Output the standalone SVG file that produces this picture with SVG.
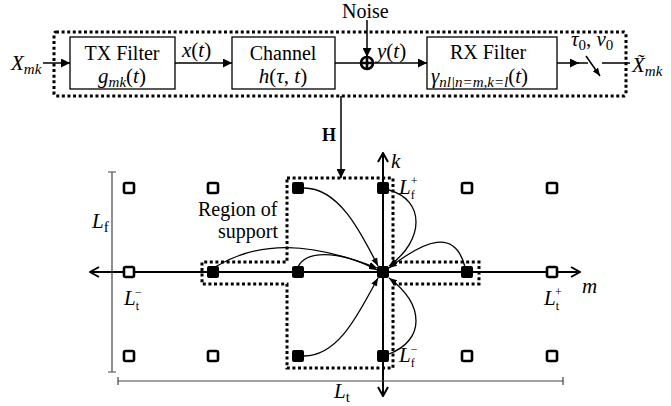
<svg xmlns="http://www.w3.org/2000/svg" width="671" height="406" viewBox="0 0 671 406">
<defs>
<style>
.box{fill:#fff;stroke:#000;stroke-width:1.3}
.dot{fill:none;stroke:#000;stroke-width:3;stroke-dasharray:3 2.6}
.ln{fill:none;stroke:#000;stroke-width:1.5}
.ax{fill:none;stroke:#000;stroke-width:2}
.cv{fill:none;stroke:#000;stroke-width:1.3}
.bar{fill:none;stroke:#444;stroke-width:1.2}
.t{font-family:"Liberation Serif",serif;font-size:20px;fill:#000}
.m{font-family:"Liberation Serif",serif;font-style:italic;font-size:21px;fill:#000}
.s{font-size:15px}
.u{font-size:12px}
.os{fill:#fff;stroke:#000;stroke-width:2.6}
.fs{fill:#000}
</style>
<marker id="ah" viewBox="0 0 10 10" refX="10" refY="5" markerWidth="9" markerHeight="9" markerUnits="userSpaceOnUse" orient="auto"><path d="M0,0 L10,5 L0,10 z" fill="#000"/></marker>
<marker id="ac" viewBox="0 0 10 10" refX="10" refY="5" markerWidth="8" markerHeight="8" markerUnits="userSpaceOnUse" orient="auto"><path d="M0,1 L10,5 L0,9 z" fill="#000"/></marker>
<marker id="ao" viewBox="0 0 12 12" refX="11" refY="6" markerWidth="12" markerHeight="12" markerUnits="userSpaceOnUse" orient="auto"><path d="M2,1 L11,6 L2,11" fill="none" stroke="#000" stroke-width="2"/></marker>
</defs>

<!-- system outer box -->
<rect class="dot" x="54" y="32" width="572" height="64" rx="2"/>

<g id="tx">
<rect class="box" x="70" y="37" width="105" height="52"/>
<text class="t" x="122" y="60" text-anchor="middle">TX Filter</text>
<text class="m" x="122" y="83" text-anchor="middle">g<tspan class="s" dy="4">mk</tspan><tspan dy="-4" font-style="normal">(</tspan>t<tspan font-style="normal">)</tspan></text>
</g>
<g id="channel">
<rect class="box" x="232" y="37" width="103" height="52"/>
<text class="t" x="283" y="60" text-anchor="middle">Channel</text>
<text class="m" x="283" y="83" text-anchor="middle">h<tspan font-style="normal">(</tspan>τ<tspan font-style="normal">,</tspan> t<tspan font-style="normal">)</tspan></text>
</g>
<g id="adder">
<circle cx="367" cy="63" r="6" fill="#fff" stroke="#000" stroke-width="2.6"/>
<path d="M361,63 H373 M367,57 V69" stroke="#000" stroke-width="2.6"/>
</g>
<g id="rx">
<rect class="box" x="427" y="37" width="130" height="52"/>
<text class="t" x="488" y="59" text-anchor="middle">RX Filter</text>
<text class="m" x="431" y="83">γ<tspan class="s" dy="4">nl|n=m,k=l</tspan><tspan dy="-4" font-style="normal">(</tspan>t<tspan font-style="normal">)</tspan></text>
</g>
<g id="sampler">
<path class="ln" d="M578,63 H588 M602,63 H630"/>
<path class="ln" d="M586,56 L600,76" marker-end="url(#ac)"/>
<text class="m" x="571" y="46">τ<tspan class="s" dy="4" font-style="normal">0</tspan><tspan dy="-4" font-style="normal">,</tspan> ν<tspan class="s" dy="4" font-style="normal">0</tspan></text>
</g>
<g id="labels-top">
<text class="m" x="11" y="70">X<tspan class="s" dy="4">mk</tspan></text>
<text class="m" x="632" y="72">X̃<tspan class="s" dy="4">mk</tspan></text>
<text class="m" x="182" y="57">x<tspan font-style="normal">(</tspan>t<tspan font-style="normal">)</tspan></text>
<text class="m" x="377" y="58">y<tspan font-style="normal">(</tspan>t<tspan font-style="normal">)</tspan></text>
<text class="t" x="342" y="18">Noise</text>
</g>

<g id="connectors">
<path class="ln" d="M43,63 H70" marker-end="url(#ah)"/>
<path class="ln" d="M175,63 H232" marker-end="url(#ah)"/>
<path class="ln" d="M335,63 H361"/>
<path class="ln" d="M373,63 H427" marker-end="url(#ah)"/>
<path class="ln" d="M557,63 H579" marker-end="url(#ah)"/>
<path class="ln" d="M367,20 V57" marker-end="url(#ah)"/>
<path class="ln" d="M341,96 V178" marker-end="url(#ah)"/>
</g>
<text x="322" y="141" font-family="Liberation Serif,serif" font-weight="bold" font-size="18">H</text>

<!-- grid -->
<g id="axes">
<path class="ax" d="M383,272 H90" marker-end="url(#ao)"/>
<path class="ax" d="M383,272 H580" marker-end="url(#ao)"/>
<path class="ax" d="M383,272 V153" marker-end="url(#ao)"/>
<path class="ax" d="M383,272 V396" marker-end="url(#ao)"/>
</g>

<g id="region">
<path class="dot" d="M287,178 H393 V262 H479 V284 H393 V368 H287 V284 H202 V262 H287 Z"/>
<text class="t" x="198" y="216">Region of</text>
<text class="t" x="218" y="238">support</text>
</g>

<g id="points">
<rect class="os" x="124" y="183" width="10" height="10" rx="1.5"/>
<rect class="os" x="208" y="183" width="10" height="10" rx="1.5"/>
<rect class="os" x="462" y="183" width="10" height="10" rx="1.5"/>
<rect class="os" x="547" y="183" width="10" height="10" rx="1.5"/>
<rect class="os" x="124" y="267" width="10" height="10" rx="1.5"/>
<rect class="os" x="547" y="267" width="10" height="10" rx="1.5"/>
<rect class="os" x="124" y="351" width="10" height="10" rx="1.5"/>
<rect class="os" x="208" y="351" width="10" height="10" rx="1.5"/>
<rect class="os" x="462" y="351" width="10" height="10" rx="1.5"/>
<rect class="os" x="547" y="351" width="10" height="10" rx="1.5"/>
<rect class="fs" x="292" y="182" width="12" height="12" rx="2"/>
<rect class="fs" x="377" y="182" width="12" height="12" rx="2"/>
<rect class="fs" x="207" y="266" width="12" height="12" rx="2"/>
<rect class="fs" x="292" y="266" width="12" height="12" rx="2"/>
<rect class="fs" x="377" y="266" width="12" height="12" rx="2"/>
<rect class="fs" x="461" y="266" width="12" height="12" rx="2"/>
<rect class="fs" x="292" y="350" width="12" height="12" rx="2"/>
<rect class="fs" x="377" y="350" width="12" height="12" rx="2"/>
</g>

<g id="curves">
<path class="cv" d="M304,188 C340,188 362,235 378,266" marker-end="url(#ac)"/>
<path class="cv" d="M389,190 C425,200 425,240 389,266" marker-end="url(#ac)"/>
<path class="cv" d="M465,267 C455,228 425,240 389,268" marker-end="url(#ac)"/>
<path class="cv" d="M215,267 C260,240 310,242 377,268" marker-end="url(#ac)"/>
<path class="cv" d="M298,267 C305,252 335,248 377,270" marker-end="url(#ac)"/>
<path class="cv" d="M304,356 C340,356 360,310 378,278" marker-end="url(#ac)"/>
<path class="cv" d="M389,354 C425,340 425,305 389,278" marker-end="url(#ac)"/>
</g>

<g id="dims">
<path class="bar" d="M112,172 V372 M108,172 H116 M108,372 H116"/>
<path class="bar" d="M118,381 H563 M118,377 V385 M563,377 V385"/>
<text class="m" x="92" y="228">L<tspan class="s" dy="4" font-style="normal">f</tspan></text>
<text class="m" x="334" y="398">L<tspan class="s" dy="4" font-style="normal">t</tspan></text>
<text class="m" x="124" y="305">L<tspan class="u" dy="5" font-style="normal">t</tspan><tspan class="u" dx="-4" dy="-14" font-style="normal">−</tspan></text>
<text class="m" x="544" y="305">L<tspan class="u" dy="5" font-style="normal">t</tspan><tspan class="u" dx="-4" dy="-14" font-style="normal">+</tspan></text>
<text class="m" x="399" y="194">L<tspan class="u" dy="5" font-style="normal">f</tspan><tspan class="u" dx="-4" dy="-14" font-style="normal">+</tspan></text>
<text class="m" x="399" y="362">L<tspan class="u" dy="5" font-style="normal">f</tspan><tspan class="u" dx="-4" dy="-14" font-style="normal">−</tspan></text>
<text class="m" x="391" y="168">k</text>
<text class="m" x="582" y="293">m</text>
</g>
</svg>
